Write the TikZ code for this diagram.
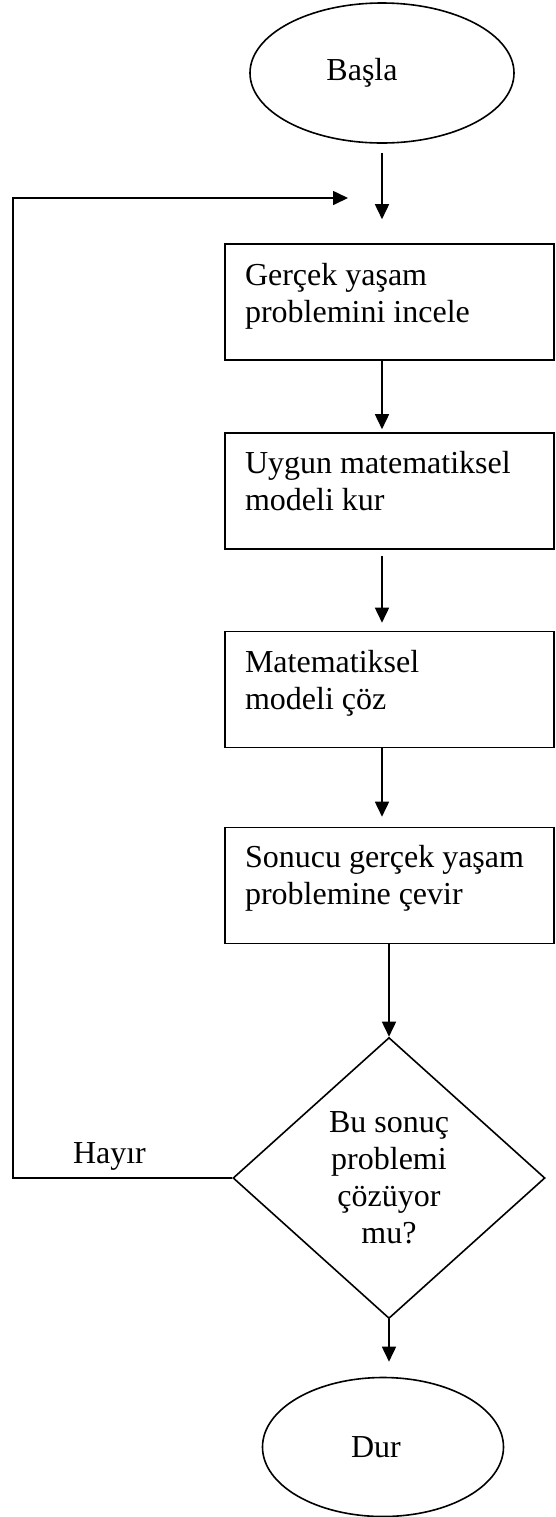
\documentclass[tikz,border=0pt]{standalone}
\usepackage{fontspec}
\setmainfont{Liberation Serif}
\usepackage{tikz}
\usetikzlibrary{arrows.meta,positioning,calc,shapes.geometric}

\begin{document}
\begin{tikzpicture}[x=0.5pt, y=-0.5pt, line width=0.8pt,
    font=\fontsize{16}{18.5}\selectfont,
    terminal/.style={draw, ellipse, inner sep=0pt},
    procbox/.style={draw, rectangle, minimum width=164.5pt, minimum height=58pt, inner sep=0pt},
    boxtext/.style={anchor=north west, align=left, inner sep=0pt},
    decision/.style={draw, diamond, minimum width=156pt, minimum height=140.5pt, inner sep=0pt, align=center},
    arr/.style={-{Triangle[length=7.5pt, width=7pt]}}]
    \useasboundingbox (0,0) rectangle (556,1517);
    \node[terminal, minimum width=132pt, minimum height=70pt] (start) at (382,73) {Başla\hspace*{20pt}};
    \node[procbox] (b1) at (389.5,302) {};
    \node[procbox] (b2) at (389.5,491) {};
    \node[procbox] (b3) at (389.5,689.5) {};
    \node[procbox] (b4) at (389.5,885.5) {};
    \node[boxtext] (t1) at ($(b1.north west)+(20,19)$) {Gerçek yaşam\\problemini incele};
    \node[boxtext] (t2) at ($(b2.north west)+(20,18)$) {Uygun matematiksel\\modeli kur};
    \node[boxtext] (t3) at ($(b3.north west)+(20,19)$) {Matematiksel\\modeli çöz};
    \node[boxtext] (t4) at ($(b4.north west)+(20,18)$) {Sonucu gerçek yaşam\\problemine çevir};
    \node[decision] (dec) at (389,1178) {Bu sonuç\\problemi\\çözüyor\\mu?};
    \node[terminal, minimum width=120.5pt, minimum height=69.5pt] (stop) at (383,1447) {Dur\hspace*{7pt}};
    \coordinate (corner) at (13,198);
    \coordinate (loop) at (348,198);
    % main flow
    \draw[arr, shorten <=4.5pt, shorten >=12pt] (start.south) -- (start.south |- b1.north);
    \draw[arr, shorten >=1.5pt] (start.south |- b1.south) -- (start.south |- b2.north);
    \draw[arr, shorten <=3pt, shorten >=4pt] (start.south |- b2.south) -- (start.south |- b3.north);
    \draw[arr, shorten >=5pt] (start.south |- b3.south) -- (start.south |- b4.north);
    \draw[arr] (dec.north |- b4.south) -- (dec.north);
    \draw[arr, shorten >=7.5pt] (dec.south) -- (dec.south |- stop.north);
    % back to the start
    \draw[arr] (dec.west) -- node[above, pos=0.56, inner sep=3.5pt] (no) {Hayır} (dec.west -| corner) -- (corner) -- (loop);
\end{tikzpicture}
\end{document}
